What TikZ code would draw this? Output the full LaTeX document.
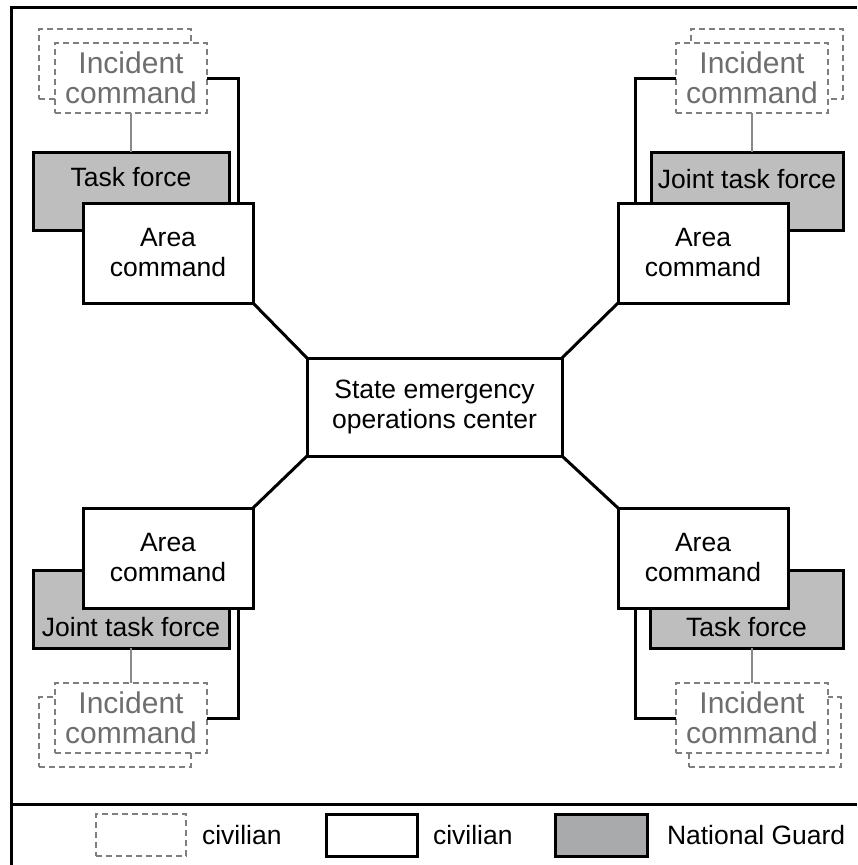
\documentclass[tikz,border=0pt]{standalone}
\usepackage{fontspec}
\setmainfont{Liberation Sans}
\usetikzlibrary{calc}
\definecolor{boxgray}{HTML}{BEBEBE}
\definecolor{leggray}{HTML}{A8AAAC}
\definecolor{dashgray}{HTML}{7F7F7F}
\definecolor{incgray}{HTML}{6E6E6E}
\definecolor{linegray}{HTML}{8A8A8A}
\tikzset{
  every node/.style={inner sep=0pt, outer sep=0pt},
  mainfont/.style={font=\fontsize{26.5pt}{30pt}\selectfont},
  wbox/.style={draw, line width=3pt, fill=white, align=center, mainfont},
  gbox/.style={draw, line width=3pt, fill=boxgray},
  dbox/.style={draw=dashgray, line width=2.2pt, dash pattern=on 6pt off 4pt, fill=white,
               text=incgray, align=center, font=\fontsize{30pt}{30pt}\selectfont,
               minimum width=152pt, minimum height=70pt},
  dback/.style={draw=dashgray, line width=2.2pt, dash pattern=on 6pt off 4pt,
               minimum width=152pt, minimum height=70pt},
  lbl/.style={mainfont, align=center},
  conn/.style={line width=3pt, black},
  gconn/.style={line width=2pt, linegray},
  frameline/.style={line width=3pt, black},
  acbox/.style={wbox, minimum width=170pt, minimum height=100pt},
}
\begin{document}
\begin{tikzpicture}[x=1pt,y=-1pt]
\useasboundingbox (0,0) rectangle (857,865);

% frame
\draw[frameline] (11,865) -- (11,7) -- (857,7);
\draw[frameline] (11,804) -- (857,804);

% central node
\node[wbox, minimum width=255pt, minimum height=98pt] (seoc) at (434.5,407) {State emergency\\operations center};

% ---- top left ----
\node[dback] (icB1) at (115,64) {};
\node[dbox] (icF1) at (131,78) {Incident\\command};
\node[gbox, minimum width=196pt, minimum height=78pt] (tf1) at (131,191) {};
\node[lbl] (tf1l) at (131,177) {Task force};
\draw[gconn] (icF1.south) -- (icF1.south |- tf1.north);
\node[acbox] (ac1) at (168,253) {Area\\command};
\draw[conn] (icF1.east) -| ($(ac1.north east)+(-15,0)$);
\draw[conn] (ac1.south east) -- (seoc.north west);

% ---- top right ----
\node[dback] (icB2) at (767,64) {};
\node[dbox] (icF2) at (752,78) {Incident\\command};
\node[gbox, minimum width=192pt, minimum height=78pt] (tf2) at (747,191) {};
\node[lbl] (tf2l) at (747,179) {Joint task force};
\draw[gconn] (icF2.south) -- (icF2.south |- tf2.north);
\node[acbox] (ac2) at (703,253) {Area\\command};
\draw[conn] (icF2.west) -| ($(ac2.north west)+(17,0)$);
\draw[conn] (ac2.south west) -- (seoc.north east);

% ---- bottom left ----
\node[dback] (icB3) at (115,732) {};
\node[dbox] (icF3) at (131,718) {Incident\\command};
\node[gbox, minimum width=196pt, minimum height=78pt] (tf3) at (131,609) {};
\node[lbl] (tf3l) at (131,627) {Joint task force};
\draw[gconn] (icF3.north) -- (icF3.north |- tf3.south);
\node[acbox] (ac3) at (168,558) {Area\\command};
\draw[conn] (icF3.east) -| ($(ac3.south east)+(-15,0)$);
\draw[conn] (ac3.north east) -- (seoc.south west);

% ---- bottom right ----
\node[dback] (icB4) at (765,732) {};
\node[dbox] (icF4) at (752,718) {Incident\\command};
\node[gbox, minimum width=193pt, minimum height=78pt] (tf4) at (746.5,609) {};
\node[lbl] (tf4l) at (746.5,627) {Task force};
\draw[gconn] (icF4.north) -- (icF4.north |- tf4.south);
\node[acbox] (ac4) at (703,558) {Area\\command};
\draw[conn] (icF4.west) -| ($(ac4.south west)+(17,0)$);
\draw[conn] (ac4.north west) -- (seoc.south east);

% ---- legend ----
\node[draw=dashgray, line width=2.2pt, dash pattern=on 6pt off 4pt, minimum width=90pt, minimum height=42pt] (lg1) at (141,835) {};
\node[mainfont, anchor=west] (lt1) at (202,835) {civilian};
\node[draw, line width=3pt, fill=white, minimum width=91pt, minimum height=42pt] (lg2) at (371.5,835) {};
\node[mainfont, anchor=west] (lt2) at (433,835) {civilian};
\node[draw, line width=3pt, fill=leggray, minimum width=92pt, minimum height=42pt] (lg3) at (601,835) {};
\node[mainfont, anchor=west] (lt3) at (667,835) {National Guard};
\end{tikzpicture}
\end{document}
